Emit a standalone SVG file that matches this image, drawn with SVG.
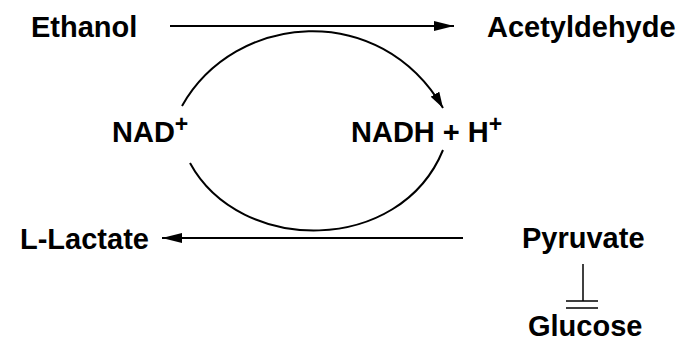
<svg xmlns="http://www.w3.org/2000/svg" width="696" height="341" viewBox="0 0 696 341">
<defs>
<style>
text{font-family:"Liberation Sans",Arial,sans-serif;font-weight:bold;font-size:29px;fill:#000}
.sup{font-size:23px}
.ln{fill:none;stroke:#000;stroke-width:2}
</style>
<marker id="ah" viewBox="0 0 20 10" refX="20" refY="5" markerWidth="20" markerHeight="10" markerUnits="userSpaceOnUse" orient="auto">
<path d="M0,0 L20,5 L0,10 Z" fill="#000"/>
</marker>
<marker id="ah2" viewBox="0 0 16 10" refX="16" refY="5" markerWidth="16" markerHeight="10" markerUnits="userSpaceOnUse" orient="auto">
<path d="M0,0 L16,5 L0,10 Z" fill="#000"/>
</marker>
</defs>
<rect width="696" height="341" fill="#fff"/>
<g id="ethanol"><text x="31" y="37">Ethanol</text></g>
<g id="acetyldehyde"><text x="487" y="37">Acetyldehyde</text></g>
<g id="nad"><text x="112" y="142">NAD<tspan class="sup" dy="-10">+</tspan></text></g>
<g id="nadh"><text x="351" y="142">NADH + H<tspan class="sup" dy="-10">+</tspan></text></g>
<g id="lactate"><text x="20" y="249">L-Lactate</text></g>
<g id="pyruvate"><text x="522" y="248">Pyruvate</text></g>
<g id="glucose"><text x="528" y="336">Glucose</text></g>
<g id="connectors">
<path class="ln" d="M182,106 C235,12 380,0 443,108" marker-end="url(#ah2)"/>
<path class="ln" d="M170,26 L454,26" marker-end="url(#ah)"/>
<path class="ln" d="M190,163 C240,255 400,255 443,150"/>
<path class="ln" d="M463,238 L162,238" marker-end="url(#ah)"/>
<path class="ln" d="M583,264 L583,301" style="stroke-width:1.5"/>
<path class="ln" d="M566,301 L598,301 M566,308 L598,308" style="stroke-width:1.5"/>
</g>
</svg>
